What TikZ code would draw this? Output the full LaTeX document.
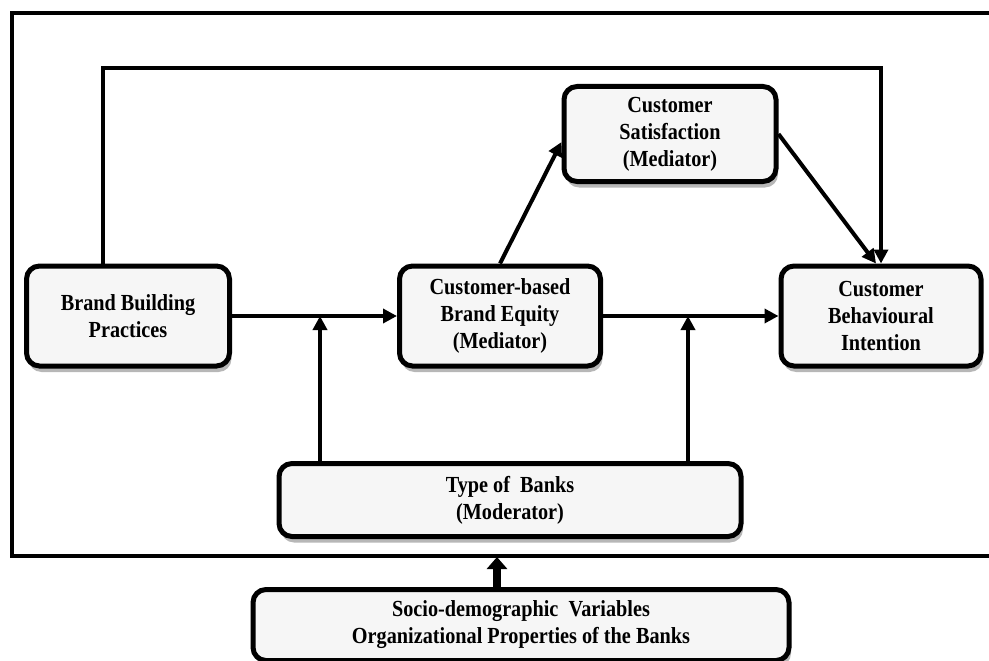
\documentclass[tikz,border=0pt]{standalone}
\usepackage{fontspec}
\setmainfont[FakeStretch=0.88]{Liberation Serif}
\usetikzlibrary{arrows.meta,shadows}

\tikzset{
  block/.style={draw, line width=5pt, rounded corners=13pt, fill=gray!7,
    align=center, font=\bfseries\fontsize{23}{27}\selectfont,
    drop shadow={shadow xshift=2pt, shadow yshift=-6pt, fill=gray!80, opacity=.7}},
  link/.style={line width=4pt, -{Triangle[length=14pt,width=14pt]}},
  frame/.style={line width=4.5pt}
}

\begin{document}
\begin{tikzpicture}[x=1pt,y=-1pt]
  \useasboundingbox (0,0) rectangle (989,661);

  % outer frame
  \draw[frame] (989,13) -- (12,13) -- (12,556) -- (989,556);

  % blocks
  \node[block, minimum width=203pt, minimum height=100pt] (bbp) at (128,316) {Brand Building\\Practices};
  \node[block, minimum width=201pt, minimum height=100pt] (cbbe) at (500,316) {Customer-based\\Brand Equity\\(Mediator)};
  \node[block, minimum width=212pt, minimum height=95pt] (cs) at (670,134) {Customer\\Satisfaction\\(Mediator)};
  \node[block, minimum width=200pt, minimum height=100pt] (cbi) at (881,316) {Customer\\Behavioural\\Intention};
  \node[block, minimum width=462pt, minimum height=73pt] (tob) at (510,500) {Type of\ \ Banks\\(Moderator)};
  \node[block, minimum width=536pt, minimum height=71pt] (soc) at (521,625) {Socio-demographic\ \ Variables\\Organizational Properties of the Banks};

  % direct paths
  \draw[link] (bbp) -- (cbbe);
  \draw[link] (cbbe) -- (cbi);
  \draw[link] (cbbe.north) -- ([yshift=-8pt]cs.west);
  \draw[link] (cs.east) -- ([xshift=-5pt]cbi.north);

  % top path
  \coordinate (top) at (0,68);
  \draw[link] ([xshift=-25pt]bbp.north) -- ([xshift=-25pt]bbp.north |- top) -| (cbi.north);

  % moderator arrows
  \coordinate (m1) at (320,316);
  \coordinate (m2) at (688,316);
  \draw[link] (m1 |- tob.north) -- (m1);
  \draw[link] (m2 |- tob.north) -- (m2);

  % control variables
  \draw[line width=8pt, -{Triangle[length=12pt,width=20pt]}] ([xshift=-24pt]soc.north) -- ++(0,-30);
\end{tikzpicture}
\end{document}
